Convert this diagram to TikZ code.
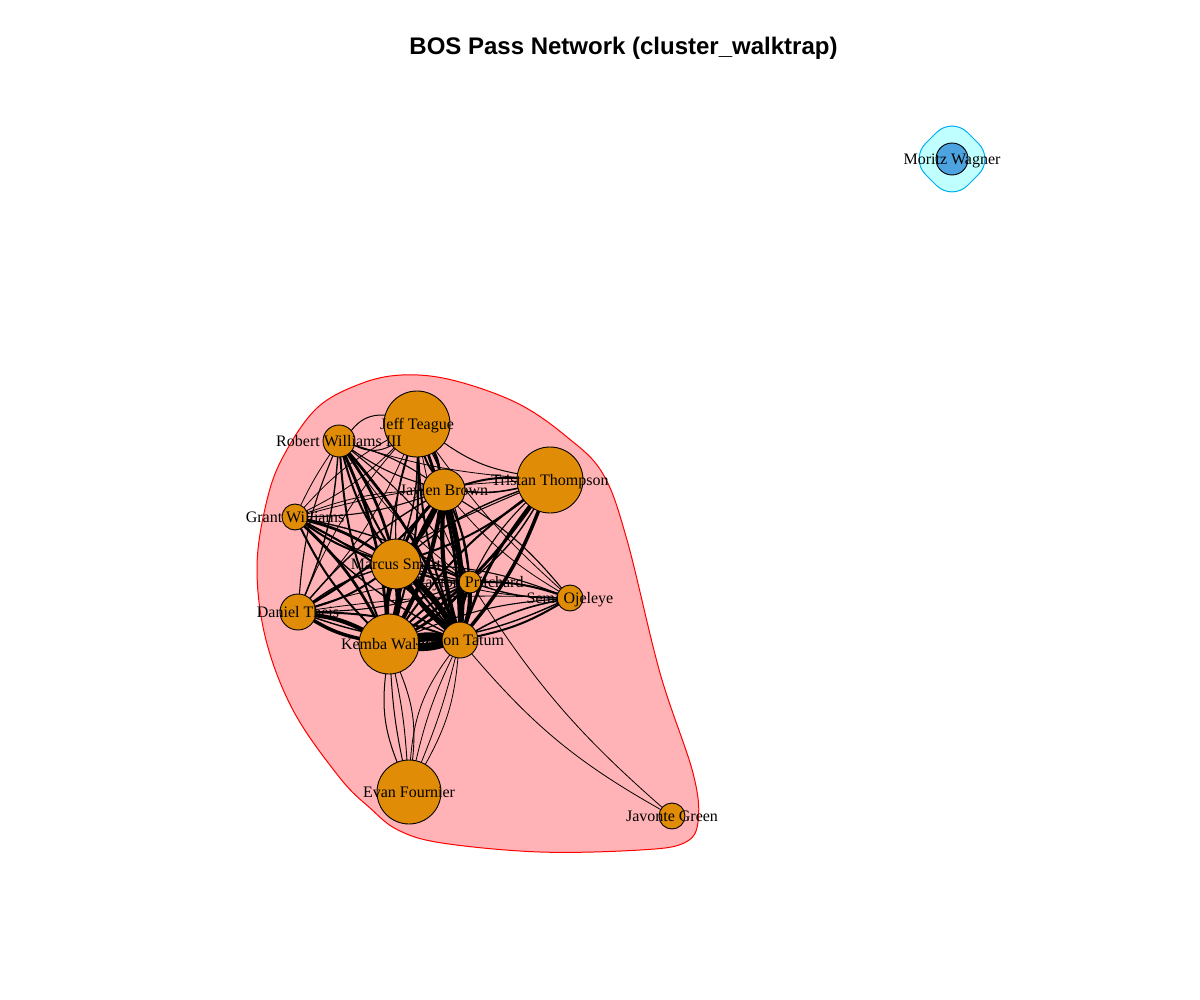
\documentclass[tikz,border=0pt]{standalone}
\usepackage{fontspec}
\setmainfont{Liberation Serif}
\newfontfamily\titlefont{Liberation Sans}
\pgfdeclarelayer{paper}
\pgfdeclarelayer{hull}
\pgfdeclarelayer{edges}
\pgfsetlayers{paper,hull,edges,main}
\definecolor{vorange}{HTML}{E08C06}
\definecolor{vblue}{HTML}{4DA3E0}
\definecolor{hullred}{HTML}{FFB3B6}
\definecolor{hullcyan}{HTML}{C0FFFF}
\tikzset{
  vtx/.style={circle, draw=black, line width=0.9pt, fill=vorange, inner sep=0pt, outer sep=0pt},
  vlabel/.style={font=\fontsize{16}{18}\selectfont, inner sep=0pt, anchor=mid, text=black, yshift=-3pt},
  edge/.style={draw=black},
}
\begin{document}
\begin{tikzpicture}[x=1pt,y=-1pt]
\begin{pgfonlayer}{paper}
\fill[white] (0,0) rectangle (1200,1000);
\end{pgfonlayer}
\useasboundingbox (0,0) rectangle (1200,1000);

% title
\node[font=\titlefont\fontsize{24}{28}\selectfont\bfseries, anchor=base] (title) at (623.5,55) {BOS Pass Network (cluster\_walktrap)};

% vertices
\node[vtx, minimum size=66pt] (JT) at (417,424) {};
\node[vtx, minimum size=32pt] (RW) at (339,441) {};
\node[vtx, minimum size=42pt] (JB) at (444,490) {};
\node[vtx, minimum size=66pt] (TT) at (550,480) {};
\node[vtx, minimum size=26pt] (GW) at (295,517) {};
\node[vtx, minimum size=50pt] (MS) at (396,564) {};
\node[vtx, minimum size=22pt] (PP) at (470,582) {};
\node[vtx, minimum size=26pt] (SO) at (570,598) {};
\node[vtx, minimum size=36pt] (DT) at (298,612) {};
\node[vtx, minimum size=60pt] (KW) at (389,644) {};
\node[vtx, minimum size=36pt] (TA) at (460,640) {};
\node[vtx, minimum size=64pt] (EF) at (409,792) {};
\node[vtx, minimum size=26pt] (JG) at (672,816) {};
\node[vtx, minimum size=32pt, fill=vblue] (MW) at (952,159) {};

% group hulls
\begin{pgfonlayer}{hull}
\draw[draw=red, line width=1pt, fill=hullred]
  plot[smooth cycle, tension=0.6] coordinates {
   (257,567) (267,500) (284,455) (317,408) (360,384) (402,375) (452,380)
   (517,403) (567,437) (603,474) (627,540) (660,673) (693,773) (698,822)
   (684,843) (640,850) (540,852) (442,843) (398,830) (370,808) (340,778)
   (294,712) (266,640)};
\draw[draw=cyan, line width=1pt, fill=hullcyan, rounded corners=22pt]
  (952,117) -- (994,159) -- (952,201) -- (910,159) -- cycle;
\end{pgfonlayer}

% edges
\begin{pgfonlayer}{edges}
\foreach \a/\b/\u/\v in {
  JT/JB/2.8/2, JT/MS/1.4/1.1, JT/KW/2/1.4, JT/TA/2.8/2, JT/GW/0.8/0.8,
  JT/DT/0.8/0.8, JT/PP/1.1/0.8,
  RW/JB/1.1/1.1, RW/MS/2.8/2, RW/KW/2.8/2, RW/TA/2.8/2, RW/DT/1.4/1.1, RW/PP/1.1/0.8,
  JB/TT/2/1.6, JB/GW/1.1/0.8, JB/MS/4/3, JB/PP/2/1.4, JB/SO/1.1/0.8,
  JB/DT/2/1.4, JB/KW/4.2/3.5, JB/TA/5.5/4.2,
  TT/MS/2/1.4, TT/PP/1.4/1.1, TT/KW/2.8/2, TT/TA/3.5/2.8,
  GW/MS/2.8/2, GW/KW/2.8/2, GW/TA/2/1.4, GW/PP/1.4/1.1,
  MS/PP/2/1.4, MS/SO/1.1/0.8, MS/DT/2/1.4, MS/KW/5.5/4.5, MS/TA/6/5,
  PP/SO/2/1.4, PP/KW/2.8/2, PP/TA/4.2/3.5, PP/DT/1.1/0.8,
  SO/TA/2/1.6, SO/KW/1.4/1.1, DT/KW/4.2/3.5, DT/TA/2/1.4, KW/TA/9/8}
{
  \draw[edge, line width=\u pt] (\a) to[bend left=9] (\b);
  \draw[edge, line width=\v pt] (\a) to[bend right=9] (\b);
}
\foreach \a/\b/\w/\bd in {
  JT/RW/1/28, RW/JT/1/28, JT/TT/1/12, JT/SO/0.8/6, RW/GW/0.8/4,
  RW/TT/0.8/6, TT/GW/0.8/6, TT/DT/1/5, SO/DT/0.8/5,
  KW/EF/1/14, KW/EF/1/4, EF/KW/0.9/4, EF/KW/0.9/14,
  TA/EF/0.8/16, TA/EF/0.8/6, EF/TA/0.8/4, EF/TA/0.8/12,
  TA/JG/0.8/10, PP/JG/0.8/8}
{
  \draw[edge, line width=\w pt] (\a) to[bend right=\bd] (\b);
}
\end{pgfonlayer}

% labels
\node[vlabel] (lJT) at (JT) {Jeff Teague};
\node[vlabel] (lRW) at (RW) {Robert Williams III};
\node[vlabel] (lJB) at (JB) {Jaylen Brown};
\node[vlabel] (lTT) at (TT) {Tristan Thompson};
\node[vlabel] (lGW) at (GW) {Grant Williams};
\node[vlabel] (lMS) at (MS) {Marcus Smart};
\node[vlabel] (lPP) at (PP) {Payton Pritchard};
\node[vlabel] (lSO) at (SO) {Semi Ojeleye};
\node[vlabel] (lDT) at (DT) {Daniel Theis};
\node[vlabel] (lKW) at (KW) {Kemba Walker};
\node[vlabel] (lTA) at (TA) {Jayson Tatum};
\node[vlabel] (lEF) at (EF) {Evan Fournier};
\node[vlabel] (lJG) at (JG) {Javonte Green};
\node[vlabel] (lMW) at (MW) {Moritz Wagner};
\end{tikzpicture}
\end{document}
